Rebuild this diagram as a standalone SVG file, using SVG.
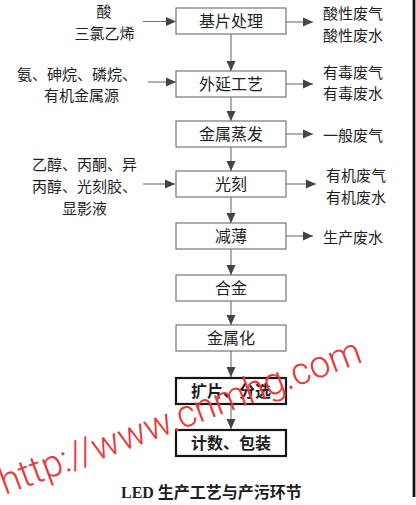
<svg xmlns="http://www.w3.org/2000/svg" width="416" height="505" viewBox="0 0 416 505">
<style>
  text { font-family: "Noto Sans CJK SC", "Noto Sans", sans-serif; fill: #1e1e1e; }
  .lbl { font-size: 16px; text-anchor: middle; }
  .side { font-size: 15px; }
  .box { fill: #ffffff; stroke: #6a6a6a; stroke-width: 1.1; }
  .boxb { fill: #ffffff; stroke: #151515; stroke-width: 2.2; }
  .bold { font-weight: bold; }
  .conn line { stroke: #707070; stroke-width: 1.1; marker-end: url(#ah); }
  .wm { font-family: "Roboto", "Liberation Sans", sans-serif; font-weight: 300; font-size: 38px; fill: #e8383a; }
</style>
<defs>
  <marker id="ah" markerUnits="userSpaceOnUse" viewBox="0 0 10 10" refX="10" refY="5" markerWidth="10" markerHeight="10" orient="auto">
    <path d="M0,0.5 L10,5 L0,9.5 z" fill="#444444"/>
  </marker>
</defs>
<rect width="416" height="505" fill="#ffffff"/>
<rect x="412.6" y="0" width="2.8" height="497" fill="#111111"/>

<g id="connectors" class="conn">
  <line x1="231" y1="34" x2="231" y2="71"/>
  <line x1="231" y1="97" x2="231" y2="121"/>
  <line x1="231" y1="147" x2="231" y2="171"/>
  <line x1="231" y1="197" x2="231" y2="223"/>
  <line x1="231" y1="249" x2="231" y2="275"/>
  <line x1="231" y1="301" x2="231" y2="325"/>
  <line x1="231" y1="351" x2="231" y2="377"/>
  <line x1="231" y1="404" x2="231" y2="429"/>
  <line x1="143" y1="21.5" x2="176" y2="21.5"/>
  <line x1="148" y1="82" x2="176" y2="82"/>
  <line x1="143" y1="184" x2="175" y2="184"/>
  <line x1="286" y1="22" x2="313" y2="22"/>
  <line x1="286" y1="84" x2="313" y2="84"/>
  <line x1="286" y1="134" x2="313" y2="134"/>
  <line x1="286" y1="184" x2="316" y2="184"/>
  <line x1="286" y1="236" x2="313" y2="236"/>
</g>

<g id="n1"><rect class="box" x="176" y="8" width="110" height="26"/><text class="lbl" x="231" y="27">基片处理</text></g>
<g id="n2"><rect class="box" x="176" y="71" width="110" height="26"/><text class="lbl" x="231" y="90">外延工艺</text></g>
<g id="n3"><rect class="box" x="176" y="121" width="110" height="26"/><text class="lbl" x="231" y="140">金属蒸发</text></g>
<g id="n4"><rect class="box" x="176" y="171" width="110" height="26"/><text class="lbl" x="231" y="190">光刻</text></g>
<g id="n5"><rect class="box" x="176" y="223" width="110" height="26"/><text class="lbl" x="231" y="242">减薄</text></g>
<g id="n6"><rect class="box" x="176" y="275" width="110" height="26"/><text class="lbl" x="231" y="294">合金</text></g>
<g id="n7"><rect class="box" x="176" y="325" width="110" height="26"/><text class="lbl" x="231" y="344">金属化</text></g>
<g id="n8"><rect class="boxb" x="176" y="378" width="110" height="26"/><text class="lbl bold" x="231" y="397">扩片、分选</text></g>
<g id="n9"><rect class="boxb" x="176" y="430" width="110" height="26"/><text class="lbl bold" x="231" y="449">计数、包装</text></g>

<g id="inputs" class="side">
  <text x="104" y="17.2" text-anchor="middle">酸</text>
  <text x="104.5" y="38.5" text-anchor="middle">三氯乙烯</text>
  <text x="17" y="80.2">氨、砷烷、磷烷、</text>
  <text x="44" y="100.5">有机金属源</text>
  <text x="32" y="170.2">乙醇、丙酮、异</text>
  <text x="32" y="191.5">丙醇、光刻胶、</text>
  <text x="62" y="213.5">显影液</text>
</g>

<g id="outputs" class="side">
  <text x="323" y="18.8">酸性废气</text>
  <text x="323" y="40.5">酸性废水</text>
  <text x="323" y="78">有毒废气</text>
  <text x="323" y="98.5">有毒废水</text>
  <text x="323" y="140.5">一般废气</text>
  <text x="326" y="180.5">有机废气</text>
  <text x="326" y="203">有机废水</text>
  <text x="323" y="243">生产废水</text>
</g>

<text id="caption" y="497.5" font-size="16"><tspan x="121" style="font-family:'Liberation Serif',serif;font-weight:bold">LED</tspan><tspan x="154" style="font-weight:bold"> 生产工艺与产污环节</tspan></text>

<text class="wm" x="5" y="495" transform="rotate(-20.4 5 495)" textLength="383" lengthAdjust="spacingAndGlyphs">http://www.cnmhg.com</text>
</svg>
